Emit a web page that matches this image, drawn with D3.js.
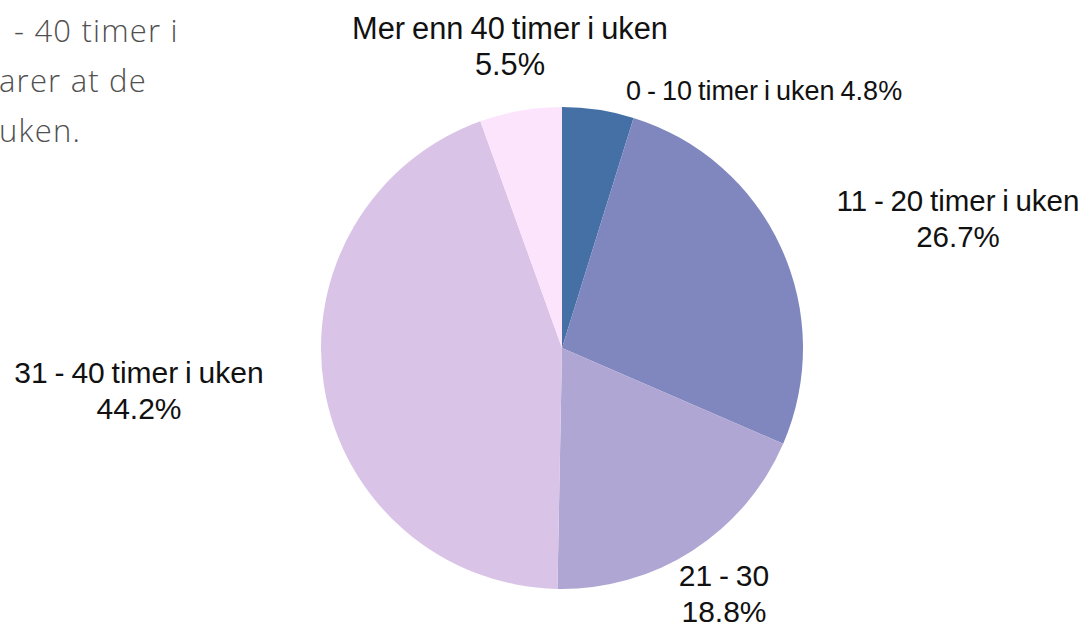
<!DOCTYPE html>
<html>
<head>
<meta charset="utf-8">
<script src="https://cdn.jsdelivr.net/npm/d3@7"></script>
<style>
  body { margin: 0; background: #fff; overflow: hidden; }
  svg { display: block; }
</style>
</head>
<body>
<script>
const categories = ["0 - 10 timer i uken", "11 - 20 timer i uken", "21 - 30", "31 - 40 timer i uken", "Mer enn 40 timer i uken"];
const shares = [4.8, 26.7, 18.8, 44.2, 5.5];
const colors = ["#4470a6", "#7f87be", "#afa6d3", "#d9c3e6", "#fde4fd"];
const introLines = ["- 40 timer i", "arer at de", "uken."];

const w = 1086;
const h = 624;
const cx = 562, cy = 348, radius = 241;

// label anchors, relative to pie centre (one per slice)
const labelAt = [
  { dx: 64, dy: -248, inline: true, anchor: "start", size: 27 },
  { dx: 396, dy: -137, size: 29.5 },
  { dx: 162, dy: 238, size: 30 },
  { dx: -423, dy: 35, size: 30 },
  { dx: -52, dy: -309, size: 30.8 }
];

const svg = d3.select("body")
  .append("svg")
  .attr("width", w)
  .attr("height", h);

// intro text, cut at the left edge
svg.append("g")
  .selectAll("text")
  .data(introLines)
  .enter().append("text")
  .attr("x", (d, i) => i === 0 ? 14 : -1)
  .attr("y", (d, i) => 42 + i * 50)
  .attr("font-family", "'Open Sans', sans-serif")
  .attr("font-weight", 300)
  .attr("font-size", 31)
  .attr("letter-spacing", 1.2)
  .attr("fill", "#505050")
  .text(d => d);

const pie = d3.pie().sort(null).value(d => d);
const arc = d3.arc().innerRadius(0).outerRadius(radius);

const g = svg.append("g")
  .attr("transform", `translate(${cx},${cy})`);

g.selectAll("path")
  .data(pie(shares))
  .enter().append("path")
  .attr("d", arc)
  .attr("fill", (d, i) => colors[i]);

const labels = g.selectAll("text")
  .data(pie(shares))
  .enter().append("text")
  .attr("font-family", "'Liberation Sans', Arial, sans-serif")
  .attr("font-size", (d, i) => labelAt[i].size)
  .attr("word-spacing", -1.5)
  .attr("fill", "#111")
  .attr("text-anchor", (d, i) => labelAt[i].anchor || "middle")
  .attr("transform", (d, i) => `translate(${labelAt[i].dx},${labelAt[i].dy})`);

labels.each(function(d, i) {
  const t = d3.select(this);
  const pct = d3.format(".1f")(shares[i]) + "%";
  if (labelAt[i].inline) {
    t.append("tspan").attr("x", 0).attr("y", 0).text(categories[i] + " " + pct);
  } else {
    t.append("tspan").attr("x", 0).attr("y", 0).text(categories[i]);
    t.append("tspan").attr("x", 0).attr("y", 36).text(pct);
  }
});
</script>
</body>
</html>
